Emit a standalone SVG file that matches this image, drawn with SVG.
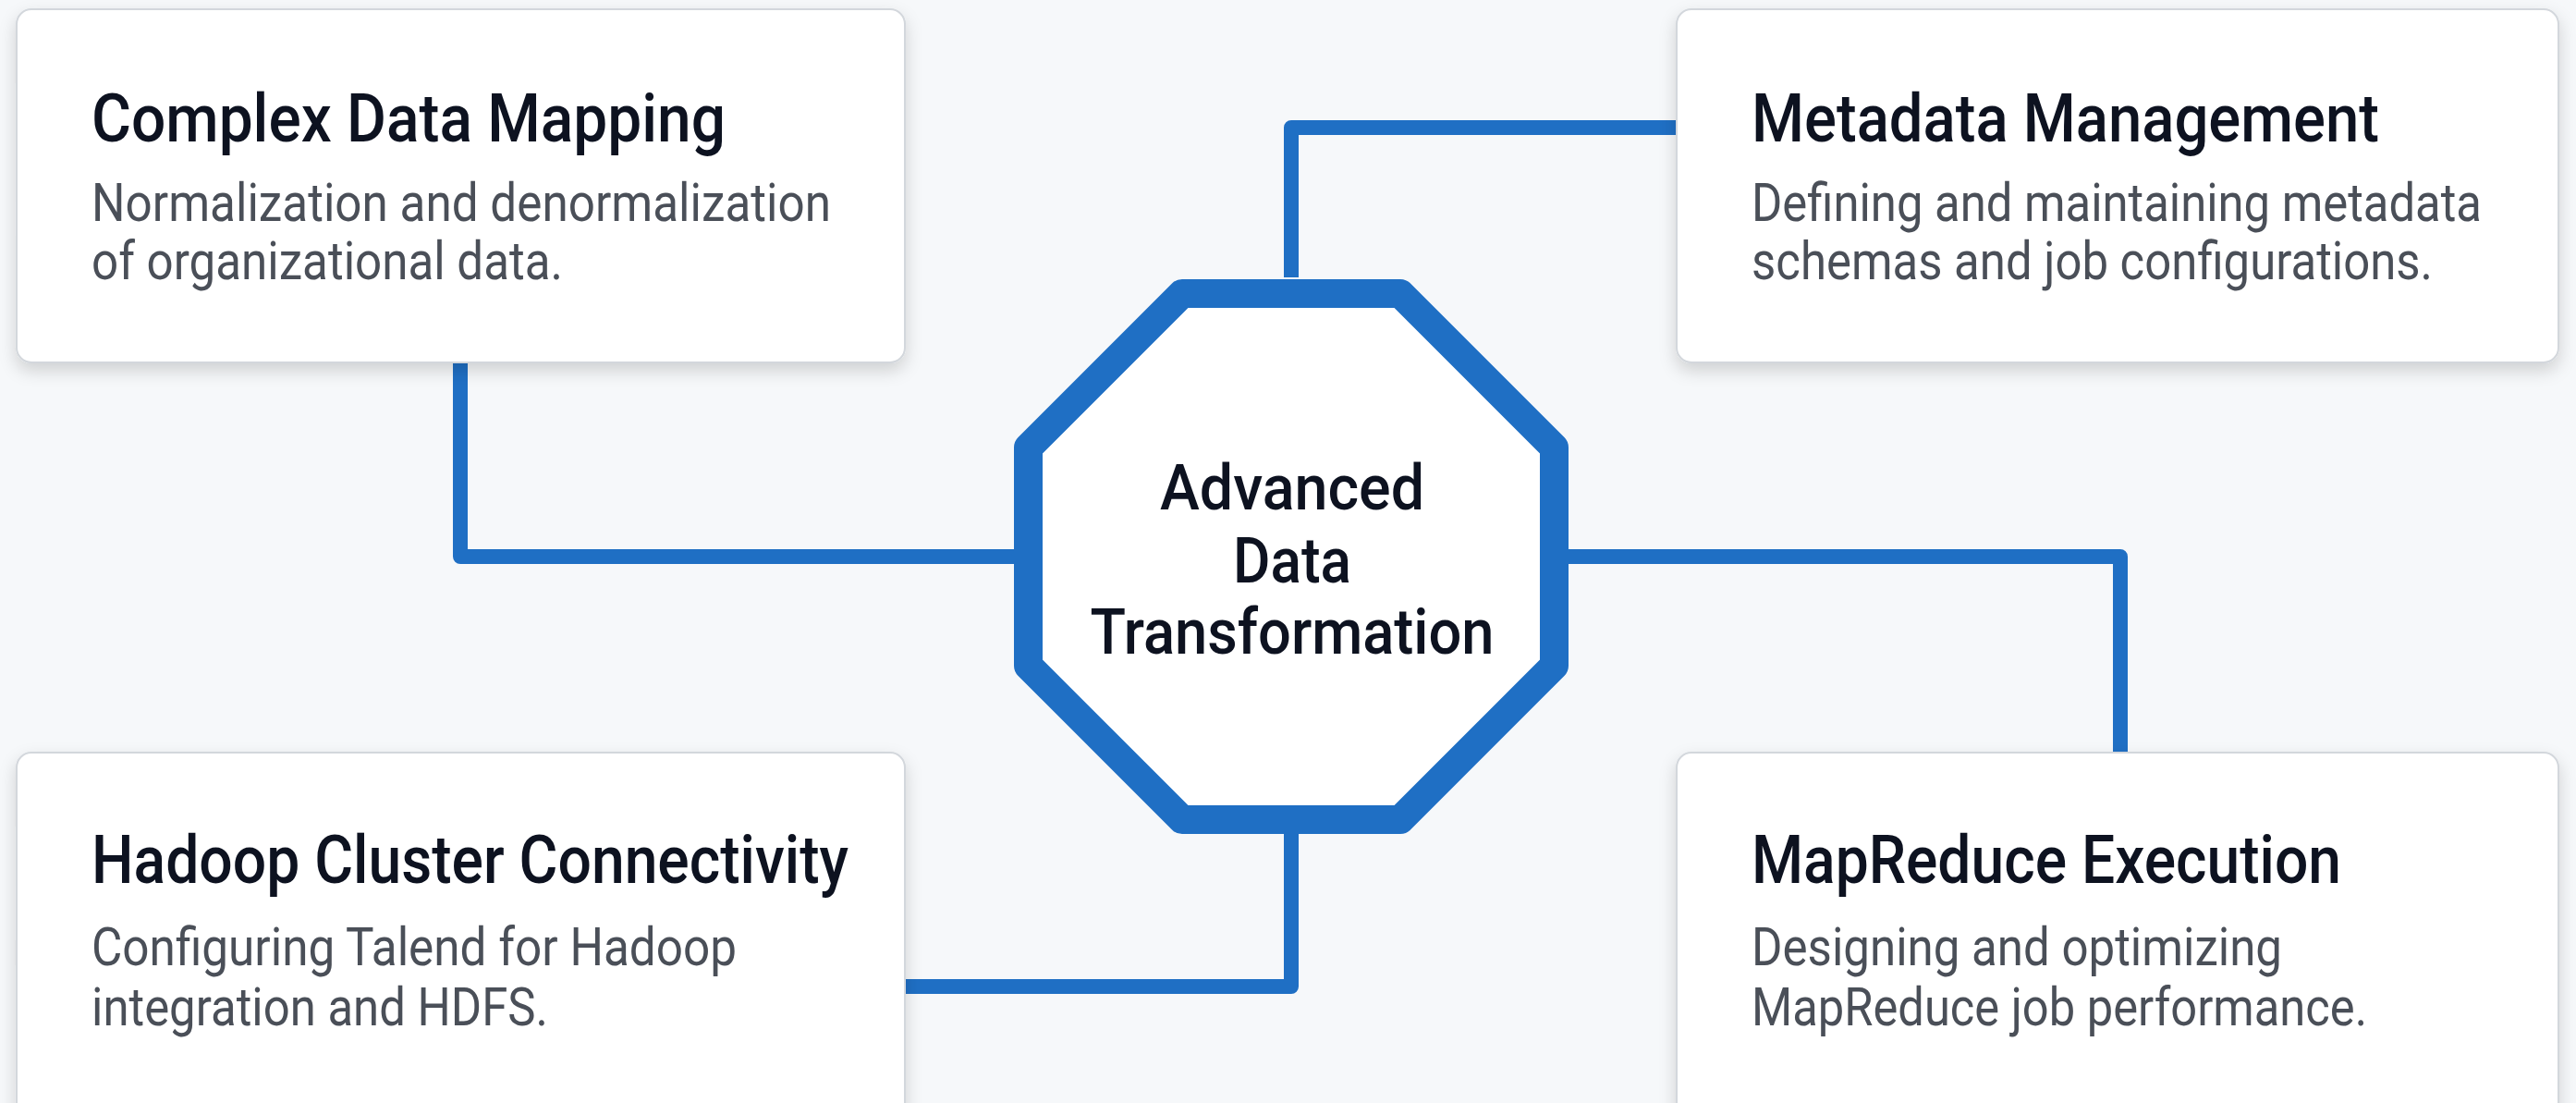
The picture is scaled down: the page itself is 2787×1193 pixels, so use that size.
<svg xmlns="http://www.w3.org/2000/svg" width="2787" height="1193" viewBox="0 0 2787 1193">
<defs>
<filter id="sh" x="-5%" y="-10%" width="110%" height="125%">
<feDropShadow dx="0" dy="8" stdDeviation="9" flood-color="#000" flood-opacity="0.16"/>
</filter>
<style>
.card{fill:#ffffff;stroke:#d3d7dc;stroke-width:2;filter:url(#sh)}
.title{font-family:Roboto,"Liberation Sans",Arial,sans-serif;font-weight:500;font-size:72px;fill:#0d1220}
.desc{font-family:Roboto,"Liberation Sans",Arial,sans-serif;font-weight:400;font-size:57px;fill:#4a4f58}
.center{font-family:Roboto,"Liberation Sans",Arial,sans-serif;font-weight:500;font-size:69px;fill:#0d1220;text-anchor:middle}
.conn{fill:none;stroke:#1f6fc4;stroke-width:16;stroke-linejoin:round}
.oct{fill:#ffffff;stroke:#1f6fc4;stroke-width:31;stroke-linejoin:round}
</style>
</defs>
<rect x="0" y="0" width="2787" height="1193" fill="#f6f8fa"/>
<g id="connectors">
<path class="conn" d="M498,392 V602 H1100"/>
<path class="conn" d="M1397,300 V138 H1814"/>
<path class="conn" d="M1694,602 H2294 V814"/>
<path class="conn" d="M1397,900 V1067 H979"/>
</g>
<g id="node-center">
<path class="oct" d="M1279,317.5 H1515 L1681.5,484 V720 L1515,886.5 H1279 L1112.5,720 V484 Z"/>
<text class="center" x="1398" y="551" textLength="286" lengthAdjust="spacingAndGlyphs">Advanced</text>
<text class="center" x="1398" y="630" textLength="128" lengthAdjust="spacingAndGlyphs">Data</text>
<text class="center" x="1398" y="707" textLength="437" lengthAdjust="spacingAndGlyphs">Transformation</text>
</g>
<g id="node-complex-data-mapping">
<rect class="card" x="18" y="10" width="961" height="382" rx="16"/>
<text class="title" x="99" y="153" textLength="686" lengthAdjust="spacingAndGlyphs">Complex Data Mapping</text>
<text class="desc" x="99" y="239" textLength="800" lengthAdjust="spacingAndGlyphs">Normalization and denormalization</text>
<text class="desc" x="99" y="302" textLength="510" lengthAdjust="spacingAndGlyphs">of organizational data.</text>
</g>
<g id="node-metadata-management">
<rect class="card" x="1814" y="10" width="954" height="382" rx="16"/>
<text class="title" x="1895" y="153" textLength="679" lengthAdjust="spacingAndGlyphs">Metadata Management</text>
<text class="desc" x="1895" y="239" textLength="790" lengthAdjust="spacingAndGlyphs">Defining and maintaining metadata</text>
<text class="desc" x="1895" y="302" textLength="737" lengthAdjust="spacingAndGlyphs">schemas and job configurations.</text>
</g>
<g id="node-hadoop-cluster-connectivity">
<rect class="card" x="18" y="814" width="961" height="400" rx="16"/>
<text class="title" x="99" y="955" textLength="819" lengthAdjust="spacingAndGlyphs">Hadoop Cluster Connectivity</text>
<text class="desc" x="99" y="1044" textLength="698" lengthAdjust="spacingAndGlyphs">Configuring Talend for Hadoop</text>
<text class="desc" x="99" y="1109" textLength="494" lengthAdjust="spacingAndGlyphs">integration and HDFS.</text>
</g>
<g id="node-mapreduce-execution">
<rect class="card" x="1814" y="814" width="954" height="400" rx="16"/>
<text class="title" x="1895" y="955" textLength="638" lengthAdjust="spacingAndGlyphs">MapReduce Execution</text>
<text class="desc" x="1895" y="1044" textLength="574" lengthAdjust="spacingAndGlyphs">Designing and optimizing</text>
<text class="desc" x="1895" y="1109" textLength="666" lengthAdjust="spacingAndGlyphs">MapReduce job performance.</text>
</g>
</svg>
